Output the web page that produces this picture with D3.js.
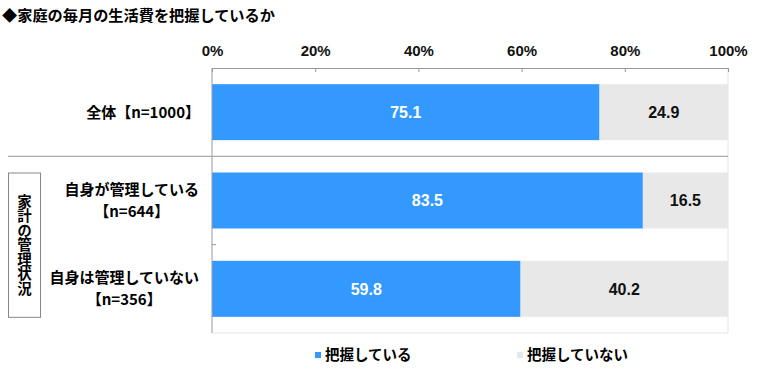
<!DOCTYPE html>
<html>
<head>
<meta charset="utf-8">
<script src="https://cdn.jsdelivr.net/npm/d3@7"></script>
<style>
body { margin: 0; background: #fff; }
svg text { font-family: "Liberation Sans", "Noto Sans CJK JP", sans-serif; }
.jp { font-family: "Noto Sans CJK JP", sans-serif; font-weight: bold; }
</style>
</head>
<body>
<script>
var title = "◆家庭の毎月の生活費を把握しているか";
var categories = ["全体", "自身が管理している", "自身は管理していない"];
var sampleSizes = ["【n=1000】", "【n=644】", "【n=356】"];
var seriesNames = ["把握している", "把握していない"];
var knowValues = [75.1, 83.5, 59.8];
var notKnowValues = [24.9, 16.5, 40.2];
var tickValues = [0, 20, 40, 60, 80, 100];
var groupLabel = "家計の管理状況";
var colors = ["#3399ff", "#e8e8e8"];

var width = 760, height = 371;
var margin = { top: 68, left: 212, right: 32, bottom: 38 };

var svg = d3.select("body").append("svg")
	.attr("width", width)
	.attr("height", height);

var x = d3.scaleLinear()
	.domain([0, 100])
	.range([margin.left, width - margin.right]);

var y = d3.scaleBand()
	.domain(categories)
	.range([margin.top, height - margin.bottom])
	.paddingInner(0.366)
	.paddingOuter(0.183);

var step = y.step();

// title
svg.append("text")
	.attr("class", "jp")
	.attr("x", 2)
	.attr("y", 21)
	.attr("font-size", 15.2)
	.text(title);

// plot frame (light right / bottom)
svg.append("line")
	.attr("x1", x(100)).attr("x2", x(100))
	.attr("y1", margin.top).attr("y2", height - margin.bottom)
	.attr("stroke", "#e4e4e4");
svg.append("line")
	.attr("x1", x(0)).attr("x2", x(100))
	.attr("y1", height - margin.bottom).attr("y2", height - margin.bottom)
	.attr("stroke", "#e4e4e4");

// stacked bars
var stackData = categories.map(function(c, i) {
	return { cat: c, know: knowValues[i], notKnow: notKnowValues[i] };
});

var rows = svg.append("g").selectAll("g")
	.data(stackData)
	.enter().append("g");

rows.append("rect")
	.attr("x", x(0))
	.attr("y", function(d) { return y(d.cat); })
	.attr("width", function(d) { return x(d.know) - x(0); })
	.attr("height", y.bandwidth())
	.attr("fill", colors[0]);

rows.append("rect")
	.attr("x", function(d) { return x(d.know); })
	.attr("y", function(d) { return y(d.cat); })
	.attr("width", function(d) { return x(d.know + d.notKnow) - x(d.know); })
	.attr("height", y.bandwidth())
	.attr("fill", colors[1]);

rows.append("text")
	.attr("x", function(d) { return x(d.know / 2); })
	.attr("y", function(d) { return y(d.cat) + y.bandwidth() / 2; })
	.attr("dy", "0.36em")
	.attr("text-anchor", "middle")
	.attr("font-size", 16)
	.attr("font-weight", "bold")
	.attr("fill", "#fff")
	.text(function(d) { return d.know.toFixed(1); });

rows.append("text")
	.attr("x", function(d) { return x(d.know + d.notKnow / 2); })
	.attr("y", function(d) { return y(d.cat) + y.bandwidth() / 2; })
	.attr("dy", "0.36em")
	.attr("text-anchor", "middle")
	.attr("font-size", 16)
	.attr("font-weight", "bold")
	.attr("fill", "#111")
	.text(function(d) { return d.notKnow.toFixed(1); });

// top axis
var xAxis = d3.axisTop(x)
	.tickValues(tickValues)
	.tickSize(-4)
	.tickPadding(12)
	.tickFormat(function(d) { return d + "%"; });

var gx = svg.append("g")
	.attr("transform", "translate(0," + margin.top + ")")
	.call(xAxis);
gx.select(".domain").attr("stroke", "#999").attr("d", "M" + x(0) + ",0.5H" + x(100));
gx.selectAll(".tick line").attr("stroke", "#999");
gx.selectAll(".tick text")
	.attr("font-size", 15)
	.attr("font-weight", "bold")
	.attr("fill", "#111")
	.attr("font-family", "Liberation Sans, sans-serif");

// left axis line
svg.append("line")
	.attr("x1", x(0)).attr("x2", x(0))
	.attr("y1", margin.top).attr("y2", height - margin.bottom)
	.attr("stroke", "#999");

// category boundary tick between the two group rows
svg.append("line")
	.attr("x1", x(0)).attr("x2", x(0) + 4)
	.attr("y1", margin.top + 2 * step).attr("y2", margin.top + 2 * step)
	.attr("stroke", "#999");

// separator between total and group
svg.append("line")
	.attr("x1", 8).attr("x2", x(100))
	.attr("y1", margin.top + step).attr("y2", margin.top + step)
	.attr("stroke", "#aaa")
	.attr("stroke-width", 1.2);

// category labels
svg.append("text")
	.attr("class", "jp")
	.attr("x", 200)
	.attr("y", y(categories[0]) + y.bandwidth() / 2)
	.attr("dy", "0.36em")
	.attr("text-anchor", "end")
	.attr("font-size", 15)
	.text(categories[0] + sampleSizes[0]);

[1, 2].forEach(function(i) {
	var cy = y(categories[i]) + y.bandwidth() / 2;
	var g = svg.append("g");
	var t1 = g.append("text")
		.attr("class", "jp")
		.attr("y", cy - 11)
		.attr("dy", "0.36em")
		.attr("text-anchor", "middle")
		.attr("font-size", 15)
		.text(categories[i]);
	var t2 = g.append("text")
		.attr("class", "jp")
		.attr("y", cy + 11)
		.attr("dy", "0.36em")
		.attr("text-anchor", "middle")
		.attr("font-size", 15)
		.text(sampleSizes[i]);
	var w = Math.max(t1.node().getComputedTextLength(), t2.node().getComputedTextLength());
	var cx = 199 - w / 2;
	t1.attr("x", cx);
	t2.attr("x", cx);
});

// group box
var boxTop = y(categories[1]);
var boxBottom = y(categories[2]) + y.bandwidth();
svg.append("rect")
	.attr("x", 8.5)
	.attr("y", boxTop + 0.5)
	.attr("width", 32)
	.attr("height", boxBottom - boxTop)
	.attr("fill", "none")
	.attr("stroke", "#888");

var midY = (boxTop + boxBottom) / 2;
svg.append("text")
	.attr("class", "jp")
	.attr("x", 24.5)
	.attr("y", midY)
	.attr("text-anchor", "middle")
	.attr("font-size", 14.5)
	.style("writing-mode", "vertical-rl")
	.text(groupLabel);

// legend
var legendX = [315, 517];
var legend = svg.append("g").selectAll("g")
	.data(seriesNames)
	.enter().append("g")
	.attr("transform", function(d, i) { return "translate(" + legendX[i] + ",355)"; });

legend.append("rect")
	.attr("x", 0)
	.attr("y", -3)
	.attr("width", 6)
	.attr("height", 6)
	.attr("fill", function(d, i) { return colors[i]; });

legend.append("text")
	.attr("class", "jp")
	.attr("x", 10)
	.attr("y", 0)
	.attr("dy", "0.36em")
	.attr("font-size", 14.5)
	.text(function(d) { return d; });
</script>
</body>
</html>
